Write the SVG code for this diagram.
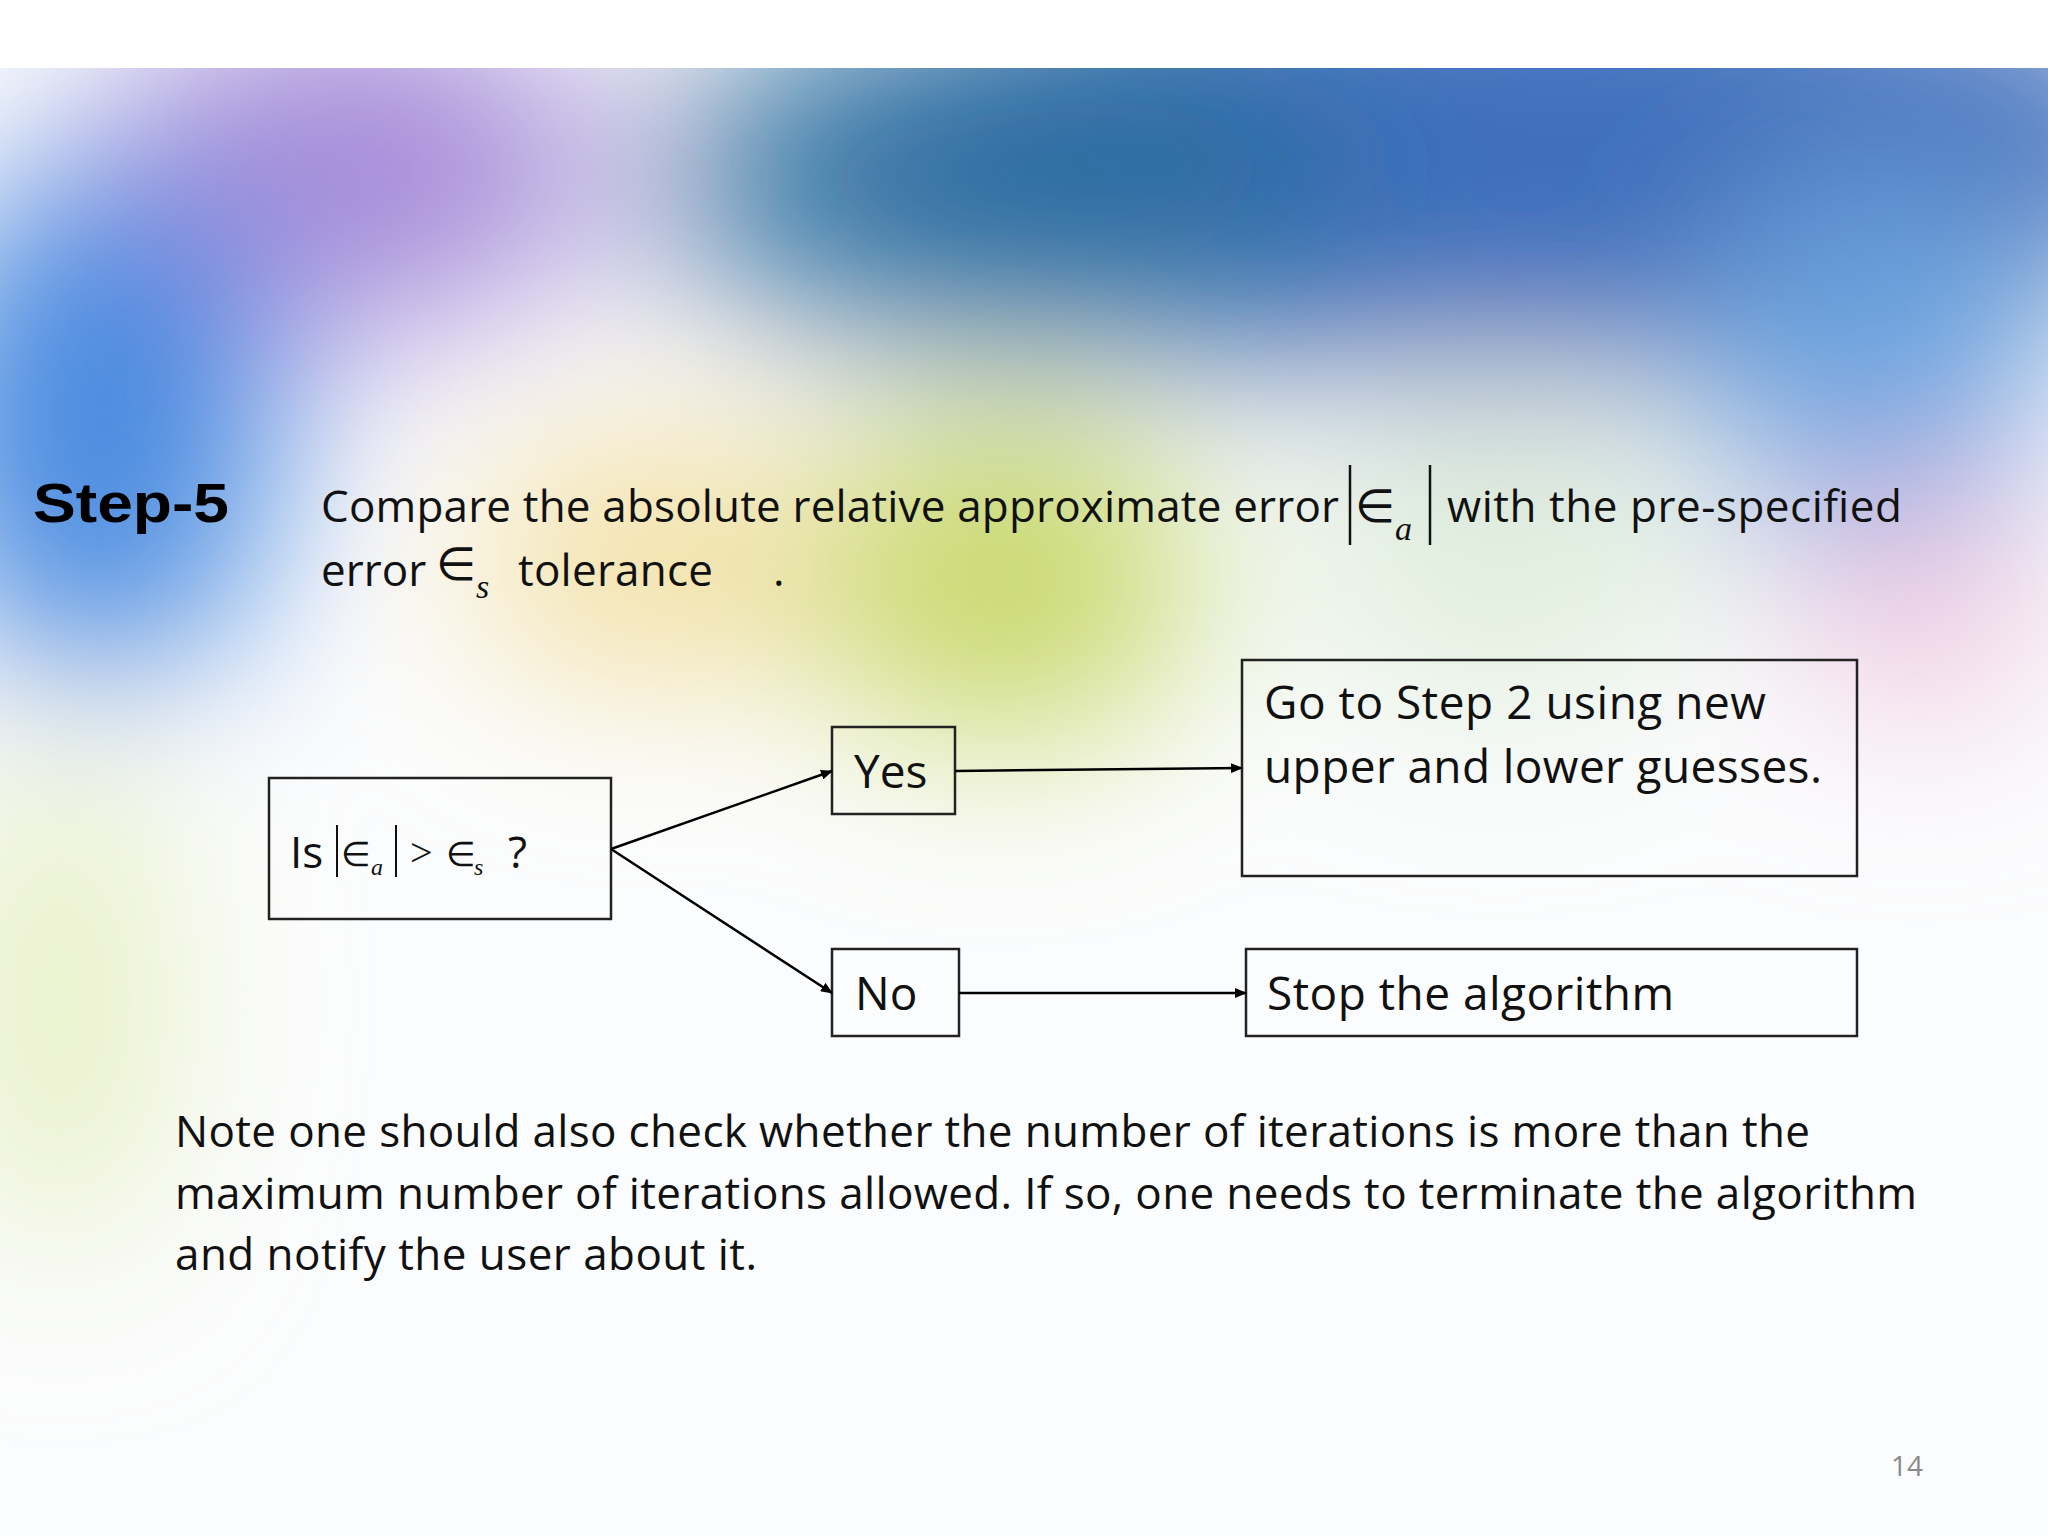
<svg xmlns="http://www.w3.org/2000/svg" width="2048" height="1536" viewBox="0 0 2048 1536">
<defs>
<filter id="blur" x="-50%" y="-50%" width="200%" height="200%"><feGaussianBlur stdDeviation="90"/></filter>
<marker id="arr" markerWidth="12" markerHeight="10" refX="11" refY="5" orient="auto" markerUnits="userSpaceOnUse"><path d="M0,0 L12,5 L0,10 z" fill="#000"/></marker>
<style>
.t{font-family:"Open Sans","Liberation Sans",sans-serif;fill:#111;}
.m{font-family:"Liberation Serif",serif;fill:#111;}
.box{fill:none;stroke:#222;stroke-width:2.5;}
.c{stroke:#000;stroke-width:2.5;fill:none;marker-end:url(#arr);}
</style>
</defs>
<g id="background">
<rect x="0" y="0" width="2048" height="1536" fill="#fbfcfd"/>
<g filter="url(#blur)">
<ellipse cx="1500" cy="150" rx="700" ry="230" fill="#1e58b0" opacity="0.85"/>
<ellipse cx="1000" cy="180" rx="350" ry="170" fill="#2a6c9c" opacity="0.85"/>
<ellipse cx="350" cy="170" rx="250" ry="160" fill="#a58ad8"/>
<ellipse cx="100" cy="420" rx="180" ry="260" fill="#4a8ae0"/>
<ellipse cx="1880" cy="380" rx="160" ry="200" fill="#6aa4e0"/>
<ellipse cx="1000" cy="580" rx="200" ry="160" fill="#c8d86a"/>
<ellipse cx="650" cy="560" rx="180" ry="120" fill="#f3dfa0"/>
<ellipse cx="1500" cy="560" rx="200" ry="150" fill="#e0eedc"/>
<ellipse cx="1920" cy="600" rx="120" ry="120" fill="#f0c8e0"/>
<ellipse cx="60" cy="1000" rx="100" ry="250" fill="#e6efc0"/>
</g>
<rect x="0" y="0" width="2048" height="68" fill="#ffffff"/>
</g>
<g id="heading">
<text x="33" y="522" font-family="Liberation Sans,Arial,sans-serif" font-weight="bold" font-size="56" fill="#000" textLength="196" lengthAdjust="spacingAndGlyphs">Step-5</text>
<text class="t" x="321" y="522" font-size="44" textLength="1018">Compare the absolute relative approximate error</text>
<line x1="1350" y1="465" x2="1350" y2="545" stroke="#111" stroke-width="2.5"/>
<text class="m" x="1355" y="522" font-size="46">∈</text>
<text class="m" x="1395" y="540" font-size="34" font-style="italic">a</text>
<line x1="1430" y1="465" x2="1430" y2="545" stroke="#111" stroke-width="2.5"/>
<text class="t" x="1447" y="522" font-size="44" textLength="455">with the pre-specified</text>
<text class="t" x="321" y="586" font-size="44">error</text>
<text class="m" x="436" y="580" font-size="46">∈</text>
<text class="m" x="476" y="598" font-size="34" font-style="italic">s</text>
<text class="t" x="518" y="586" font-size="44" textLength="195">tolerance</text>
<text class="t" x="773" y="586" font-size="44">.</text>
</g>
<g id="n-is">
<rect class="box" x="269" y="778" width="342" height="141"/>
<text class="t" x="290" y="868" font-size="44">Is</text>
<line x1="337" y1="825" x2="337" y2="877" stroke="#111" stroke-width="2"/>
<text class="m" x="341" y="866" font-size="34">∈</text>
<text class="m" x="371" y="875" font-size="24" font-style="italic">a</text>
<line x1="396" y1="825" x2="396" y2="877" stroke="#111" stroke-width="2"/>
<text class="m" x="410" y="866" font-size="40">&gt;</text>
<text class="m" x="446" y="866" font-size="34">∈</text>
<text class="m" x="474" y="875" font-size="24" font-style="italic">s</text>
<text class="t" x="508" y="868" font-size="44">?</text>
</g>
<g id="n-yes">
<rect class="box" x="832" y="727" width="123" height="87"/>
<text class="t" x="854" y="788" font-size="46">Yes</text>
</g>
<g id="n-no">
<rect class="box" x="832" y="949" width="127" height="87"/>
<text class="t" x="855" y="1010" font-size="46">No</text>
</g>
<g id="n-go">
<rect class="box" x="1242" y="660" width="615" height="216"/>
<text class="t" x="1264" y="719" font-size="46" textLength="502">Go to Step 2 using new</text>
<text class="t" x="1264" y="783" font-size="46" textLength="558">upper and lower guesses.</text>
</g>
<g id="n-stop">
<rect class="box" x="1246" y="949" width="611" height="87"/>
<text class="t" x="1267" y="1010" font-size="46" textLength="407">Stop the algorithm</text>
</g>
<g id="connectors">
<line class="c" x1="611" y1="849" x2="832" y2="771"/>
<line class="c" x1="611" y1="849" x2="832" y2="993"/>
<line class="c" x1="955" y1="771" x2="1242" y2="768"/>
<line class="c" x1="959" y1="993" x2="1246" y2="993"/>
</g>
<g id="note">
<text class="t" x="175" y="1147" font-size="44" textLength="1635">Note one should also check whether the number of iterations is more than the</text>
<text class="t" x="175" y="1209" font-size="44" textLength="1742">maximum number of iterations allowed. If so, one needs to terminate the algorithm</text>
<text class="t" x="175" y="1270" font-size="44" textLength="582">and notify the user about it.</text>
<text class="t" x="1907" y="1476" font-size="28" text-anchor="middle" style="fill:#8a8a8a">14</text>
</g>
</svg>
